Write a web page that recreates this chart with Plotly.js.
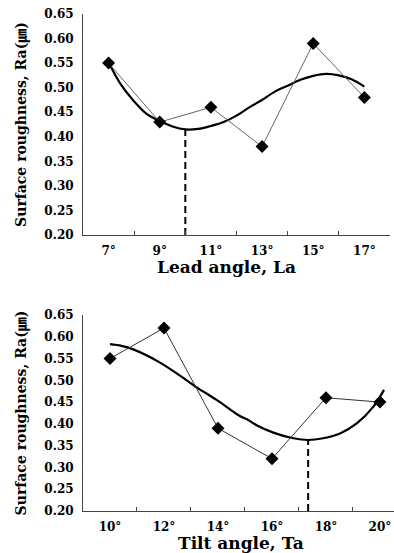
<!DOCTYPE html>
<html><head><meta charset="utf-8">
<script src="https://cdn.plot.ly/plotly-3.0.1.min.js"></script>
<style>html,body{margin:0;padding:0;background:#fff}#chart{width:394px;height:553px}</style>
</head><body><div id="chart"></div>
<script>
// Top chart: lead angle
const leadAngles = [7, 9, 11, 13, 15, 17];
const leadLabels = ["7°", "9°", "11°", "13°", "15°", "17°"];
const leadRa = [0.55, 0.43, 0.46, 0.38, 0.59, 0.48];
const leadFitX = [7, 7.5, 8, 8.5, 9, 9.5, 10, 10.5, 11, 11.5, 12, 12.5, 13, 13.5, 14, 14.5, 15, 15.5, 16, 16.5, 17];
const leadFitY = [0.552, 0.505, 0.472, 0.446, 0.432, 0.421, 0.415, 0.416, 0.422, 0.430, 0.443, 0.460, 0.475, 0.492, 0.504, 0.516, 0.524, 0.528, 0.525, 0.517, 0.502];
const leadOptX = [10, 10];
const leadOptY = [0.2, 0.415];
const leadMinorTicks = [8, 10, 12, 14, 16, 18];

// Bottom chart: tilt angle
const tiltAngles = [10, 12, 14, 16, 18, 20];
const tiltLabels = ["10°", "12°", "14°", "16°", "18°", "20°"];
const tiltRa = [0.55, 0.62, 0.39, 0.32, 0.46, 0.45];
const tiltFitX = [10.0, 10.43, 10.86, 11.79, 12.47, 13.21, 13.95, 14.81, 15.12, 15.43, 16.05, 16.79, 17.34, 17.9, 18.52, 19.14, 19.75, 20.15];
const tiltFitY = [0.583, 0.579, 0.571, 0.543, 0.516, 0.484, 0.455, 0.418, 0.409, 0.397, 0.380, 0.367, 0.363, 0.367, 0.378, 0.401, 0.439, 0.478];
const tiltOptX = [17.34, 17.34];
const tiltOptY = [0.2, 0.363];
const tiltMinorTicks = [11, 13, 15, 17, 19];

const raTicks = [0.20, 0.25, 0.30, 0.35, 0.40, 0.45, 0.50, 0.55, 0.60, 0.65];
const raTickText = raTicks.map(v => v.toFixed(2));
const yTitle = "Surface roughness, Ra(㎛)";
const leadTitle = "Lead angle, La";
const tiltTitle = "Tilt angle, Ta";

const serif = "DejaVu Serif, Liberation Serif, Noto Sans CJK JP, serif";
const tickFont = {family: serif, size: 12, color: "#000", weight: 700};
const titleFont = {family: serif, size: 17, color: "#000", weight: 700};
const yTitleFont = {family: serif, size: 14, color: "#000", weight: 700};

function dataTraces(xa, ya, xs, ys, fx, fy, ox, oy, lineColor) {
  return [
    {x: fx, y: fy, xaxis: xa, yaxis: ya, mode: "lines", type: "scatter",
     line: {color: "#000", width: 2.2, shape: "spline", smoothing: 1}, hoverinfo: "skip"},
    {x: xs, y: ys, xaxis: xa, yaxis: ya, mode: "lines+markers", type: "scatter",
     line: {color: lineColor, width: 1}, marker: {symbol: "diamond", size: 10, color: "#000"}},
    {x: ox, y: oy, xaxis: xa, yaxis: ya, mode: "lines", type: "scatter",
     line: {color: "#000", width: 2, dash: "7px,4px"}, hoverinfo: "skip"}
  ];
}

const traces = [].concat(
  dataTraces("x", "y", leadAngles, leadRa, leadFitX, leadFitY, leadOptX, leadOptY, "#666"),
  dataTraces("x2", "y2", tiltAngles, tiltRa, tiltFitX, tiltFitY, tiltOptX, tiltOptY, "#333")
);

function xAxis(domain, range, vals, text, minor, anchor) {
  return {
    domain: domain, range: range, anchor: anchor,
    tickmode: "array", tickvals: vals, ticktext: text, ticks: "inside", ticklen: 0, tickwidth: 0,
    showline: true, linecolor: "#444", linewidth: 1, showgrid: false, zeroline: false,
    tickfont: tickFont, ticklabelstandoff: 5,
    minor: {tickmode: "array", tickvals: minor, ticks: "inside", ticklen: 4, tickwidth: 1, tickcolor: "#444", showgrid: false}
  };
}
function yAxis(domain, anchor) {
  return {
    domain: domain, range: [0.2, 0.65], anchor: anchor,
    tickmode: "array", tickvals: raTicks, ticktext: raTickText, ticks: "",
    showline: true, linecolor: "#444", linewidth: 1, showgrid: false, zeroline: false,
    tickfont: tickFont, ticklabelstandoff: 6,
    title: {text: yTitle, font: yTitleFont, standoff: 14}
  };
}

const layout = {
  width: 394, height: 553,
  margin: {l: 83, r: 0, t: 14, b: 42, pad: 0},
  paper_bgcolor: "#fff", plot_bgcolor: "#fff",
  showlegend: false,
  xaxis: xAxis([0, 0.987], [6, 18], leadAngles, leadLabels, leadMinorTicks, "y"),
  yaxis: yAxis([0.5553, 1], "x"),
  xaxis2: xAxis([0, 1], [9, 20.52], tiltAngles, tiltLabels, tiltMinorTicks, "y2"),
  yaxis2: yAxis([0, 0.3944], "x2"),
  annotations: [
    {text: leadTitle, xref: "paper", yref: "paper", x: 0.46, y: 0.491, xanchor: "center", yanchor: "middle", showarrow: false, font: titleFont},
    {text: tiltTitle, xref: "paper", yref: "paper", x: 0.508, y: -0.0644, xanchor: "center", yanchor: "middle", showarrow: false, font: titleFont}
  ]
};

Plotly.newPlot("chart", traces, layout, {displayModeBar: false, staticPlot: true});
</script>
</body></html>
